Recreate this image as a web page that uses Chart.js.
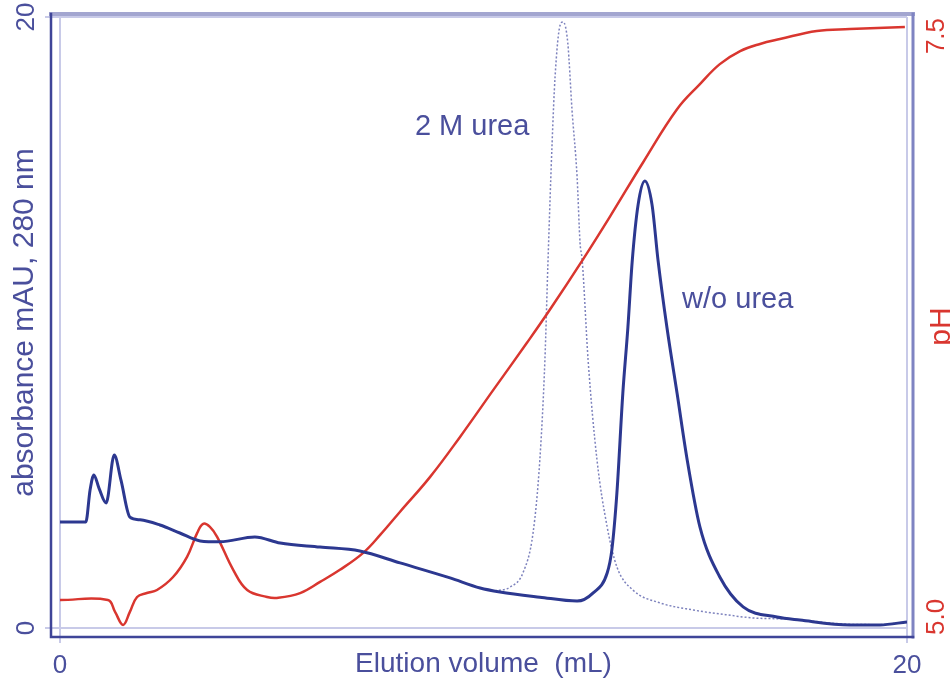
<!DOCTYPE html>
<html>
<head>
<meta charset="utf-8">
<title>Elution profile</title>
<script src="https://cdn.jsdelivr.net/npm/chart.js@4.4.1/dist/chart.umd.min.js"></script>
<style>
  html, body { margin: 0; padding: 0; background: #fff; }
  #wrap { width: 950px; height: 681px; position: relative; }
</style>
</head>
<body>
<div id="wrap"><canvas id="elutionChart"></canvas></div>
<script>
// w/o urea (solid trace), mAU vs mL
const elutionNoUrea = [0, 0.61, 0.71, 0.80, 0.92, 1.09, 1.28, 1.44, 1.65, 1.89, 2.36, 2.83, 3.31, 3.78, 4.60, 5.20, 6.14, 7.08, 8.03, 9.21, 9.92, 10.39, 11.33, 12.21, 12.59, 12.92, 13.03, 13.15, 13.29, 13.41, 13.51, 13.65, 13.81, 13.98, 14.12, 14.33, 14.57, 14.81, 15.11, 15.58, 16.13, 16.93, 17.47, 18.65, 19.36, 20.0];
const absNoUrea = [3.47, 3.47, 4.52, 5.01, 4.58, 4.09, 5.66, 4.84, 3.63, 3.54, 3.37, 3.11, 2.85, 2.82, 2.98, 2.78, 2.65, 2.52, 2.13, 1.64, 1.31, 1.18, 1.01, 0.88, 1.15, 1.80, 2.55, 4.42, 7.69, 9.85, 11.98, 13.85, 14.63, 13.85, 12.05, 9.85, 7.69, 5.50, 3.31, 1.67, 0.69, 0.36, 0.26, 0.10, 0.10, 0.20];

// 2 M urea (dotted trace)
const elutionUrea = [10.27, 10.63, 10.93, 11.17, 11.33, 11.45, 11.52, 11.62, 11.69, 11.81, 11.88, 11.99, 12.09, 12.21, 12.28, 12.33, 12.47, 12.68, 12.92, 13.15, 13.53, 14.17, 14.95, 15.75, 16.36, 17.24, 18.65, 19.36, 20.0];
const absUrea = [1.21, 1.34, 1.80, 3.11, 5.50, 8.77, 11.88, 15.88, 18.04, 19.74, 19.84, 19.15, 16.96, 14.76, 12.60, 12.05, 8.77, 5.50, 3.31, 2.00, 1.24, 0.82, 0.59, 0.43, 0.33, 0.29, 0.12, 0.11, 0.20];

// pH gradient (red trace)
const elutionPH = [0, 1.13, 1.30, 1.49, 1.65, 1.82, 2.05, 2.29, 2.67, 3.00, 3.24, 3.38, 3.54, 3.71, 4.09, 4.42, 4.89, 5.12, 5.67, 6.14, 6.61, 7.16, 7.56, 8.03, 8.74, 9.45, 10.22, 11.03, 11.57, 12.35, 12.99, 13.77, 14.57, 15.11, 15.58, 16.06, 16.53, 17.00, 17.87, 18.65, 19.95];
const pHValues = [5.073, 5.073, 5.022, 4.966, 5.022, 5.086, 5.103, 5.116, 5.172, 5.259, 5.362, 5.401, 5.388, 5.345, 5.203, 5.116, 5.086, 5.082, 5.103, 5.151, 5.203, 5.276, 5.353, 5.453, 5.603, 5.776, 5.974, 6.181, 6.323, 6.539, 6.724, 6.957, 7.185, 7.293, 7.379, 7.435, 7.466, 7.487, 7.522, 7.530, 7.539];

const xTicks = [0, 20];
const absTicks = [0, 20];
const pHTicks = [5.0, 7.5];

const blue = '#2c3890';
const blueText = '#4a4f9c';
const red = '#d9362f';
const gridLight = '#c8cae8';
const FONT = "'Liberation Sans', Arial, Helvetica, sans-serif";

function toPoints(xs, ys) {
    return xs.map((x, i) => ({ x: x, y: ys[i] }));
}

function noPad(s) {
    s.paddingTop = 0;
    s.paddingBottom = 0;
    s.paddingLeft = 0;
    s.paddingRight = 0;
}

// frame box around the plot + free texts
const framePlugin = {
    id: 'frame',
    beforeDatasetsDraw(chart) {
        const { ctx, chartArea: a } = chart;
        const L = a.left - 9, R = a.right + 6, T = a.top - 3, B = a.bottom + 9;
        ctx.save();
        ctx.lineCap = 'square';
        ctx.strokeStyle = '#a3a6d0';
        ctx.lineWidth = 4;
        ctx.beginPath(); ctx.moveTo(L, T); ctx.lineTo(R, T); ctx.stroke();
        ctx.strokeStyle = '#7f84c2';
        ctx.lineWidth = 3;
        ctx.beginPath(); ctx.moveTo(R, T); ctx.lineTo(R, B); ctx.stroke();
        ctx.strokeStyle = '#3f4598';
        ctx.lineWidth = 2.5;
        ctx.beginPath(); ctx.moveTo(L, T); ctx.lineTo(L, B); ctx.lineTo(R, B); ctx.stroke();
        ctx.restore();
    },
    afterDraw(chart) {
        const { ctx, scales } = chart;
        ctx.save();
        ctx.font = '29px ' + FONT;
        ctx.fillStyle = blueText;
        ctx.textAlign = 'left';
        ctx.textBaseline = 'middle';
        ctx.fillText('2 M urea', scales.x.getPixelForValue(8.38), scales.y.getPixelForValue(16.4));
        ctx.fillText('w/o urea', scales.x.getPixelForValue(14.69), scales.y.getPixelForValue(10.74));
        // right axis title
        ctx.translate(950, (chart.chartArea.top + chart.chartArea.bottom) / 2 + 4);
        ctx.rotate(-Math.PI / 2);
        ctx.font = '30px ' + FONT;
        ctx.fillStyle = red;
        ctx.textAlign = 'center';
        ctx.textBaseline = 'alphabetic';
        ctx.fillText('pH', 0, 0);
        ctx.restore();
    }
};

const ctx = document.getElementById('elutionChart');

new Chart(ctx, {
    type: 'line',
    data: {
        datasets: [{
            label: 'w/o urea',
            data: toPoints(elutionNoUrea, absNoUrea),
            borderColor: blue,
            borderWidth: 3,
            pointRadius: 0,
            cubicInterpolationMode: 'monotone',
            yAxisID: 'y'
        }, {
            label: 'pH',
            data: toPoints(elutionPH, pHValues),
            borderColor: red,
            borderWidth: 2.5,
            pointRadius: 0,
            tension: 0.4,
            yAxisID: 'y1'
        }, {
            label: '2 M urea',
            data: toPoints(elutionUrea, absUrea),
            borderColor: '#7d82bd',
            borderWidth: 1.5,
            borderDash: [2, 2],
            pointRadius: 0,
            cubicInterpolationMode: 'monotone',
            yAxisID: 'y'
        }]
    },
    options: {
        responsive: true,
        maintainAspectRatio: false,
        animation: false,
        layout: { padding: { top: 17, left: 0, right: 0, bottom: 0 } },
        plugins: {
            legend: { display: false },
            tooltip: { enabled: false }
        },
        scales: {
            x: {
                type: 'linear',
                min: 0,
                max: 20,
                afterBuildTicks: s => { s.ticks = xTicks.map(v => ({ value: v })); },
                afterFit: s => { s.height = 53; noPad(s); },
                ticks: { color: blueText, font: { family: FONT, size: 26 }, padding: 7, maxRotation: 0 },
                grid: { color: gridLight, lineWidth: 2, tickLength: 15, tickColor: gridLight },
                border: { display: false },
                title: {
                    display: true,
                    text: 'Elution volume  (mL)',
                    color: blueText,
                    font: { family: FONT, size: 28 },
                    padding: { top: 0, bottom: 0 }
                }
            },
            y: {
                position: 'left',
                min: 0,
                max: 20,
                afterBuildTicks: s => { s.ticks = absTicks.map(v => ({ value: v })); },
                afterFit: s => { s.width = 60; noPad(s); },
                ticks: {
                    color: blueText,
                    font: { family: FONT, size: 26 },
                    minRotation: 90,
                    maxRotation: 90,
                    crossAlign: 'center',
                    padding: 4
                },
                grid: { color: gridLight, lineWidth: 2, tickLength: 15, tickColor: gridLight },
                border: { display: false },
                title: {
                    display: true,
                    text: 'absorbance mAU, 280 nm',
                    color: blueText,
                    font: { family: FONT, size: 30 },
                    padding: { top: 7, bottom: 0 }
                }
            },
            y1: {
                position: 'right',
                min: 4.9526,
                max: 7.5819,
                afterBuildTicks: s => { s.ticks = pHTicks.map(v => ({ value: v })); },
                afterFit: s => { s.width = 43; noPad(s); },
                ticks: {
                    color: red,
                    font: { family: FONT, size: 26 },
                    minRotation: 90,
                    maxRotation: 90,
                    crossAlign: 'center',
                    padding: 4,
                    callback: v => Number(v).toFixed(1)
                },
                grid: { display: false },
                border: { display: false }
            }
        }
    },
    plugins: [framePlugin]
});
</script>
</body>
</html>
